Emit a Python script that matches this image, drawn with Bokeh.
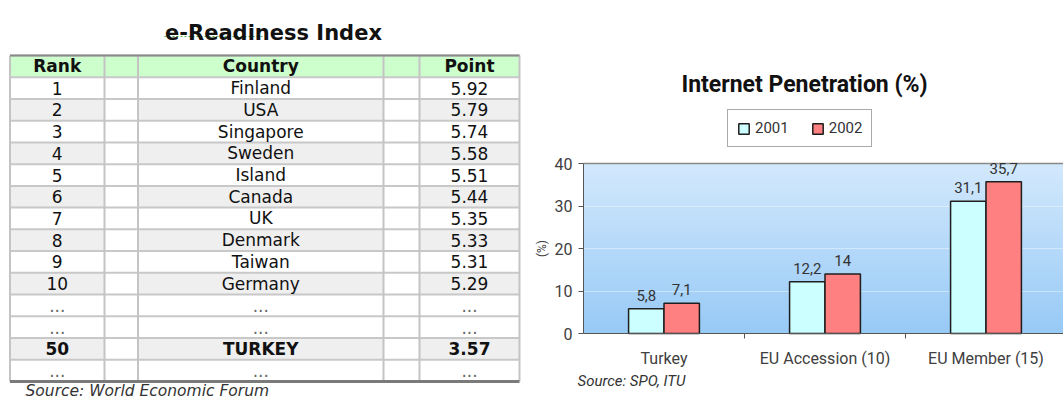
import numpy as np
from bokeh.plotting import figure
from bokeh.models import (Range1d, ColumnDataSource, Label, Legend, LegendItem, FixedTicker,
                          LinearAxis, Grid)
from bokeh.layouts import row
from bokeh.embed import file_html
from bokeh.resources import INLINE
from bokeh.core.properties import value, field

# ---------------- data: e-Readiness table ----------------
table_title = "e-Readiness Index"
header = ["Rank", "Country", "Point"]
ranks = ["1", "2", "3", "4", "5", "6", "7", "8", "9", "10", "...", "...", "50", "..."]
countries = ["Finland", "USA", "Singapore", "Sweden", "Island", "Canada", "UK",
             "Denmark", "Taiwan", "Germany", "...", "...", "TURKEY", "..."]
points = ["5.92", "5.79", "5.74", "5.58", "5.51", "5.44", "5.35", "5.33", "5.31",
          "5.29", "...", "...", "3.57", "..."]
shaded = [False, True, False, True, False, True, False, True, False, True,
          False, False, True, False]
highlight = "TURKEY"
table_note = "Source: World Economic Forum"

# ---------------- data: Internet penetration chart ----------------
chart_title = "Internet Penetration (%)"
categories = ["Turkey", "EU Accession (10)", "EU Member (15)"]
years = ["2001", "2002"]
pen_2001 = [5.8, 12.2, 31.1]
pen_2002 = [7.1, 14.0, 35.7]
y_ticks = [0, 10, 20, 30, 40]
chart_note = "Source: SPO, ITU"

H = 398
W_L = 530
W_R = 1063 - W_L

# ================= table figure =================
row_h = 21.73
top_px = 55
y_top = -0.5 - top_px / row_h
y_bot = y_top + H / row_h
pt = figure(width=W_L, height=H, x_range=Range1d(0, W_L), y_range=Range1d(y_bot, y_top),
            min_border=0, toolbar_location=None, output_backend="svg",
            x_axis_location=None, y_axis_location=None, outline_line_color=None)
pt.xgrid.visible = False
pt.ygrid.visible = False
pt.background_fill_color = "white"
pt.border_fill_color = "white"

col_edges = [9.5, 104, 137.5, 383, 419, 519]
content_cols = [(col_edges[0], col_edges[1]), (col_edges[2], col_edges[3]), (col_edges[4], col_edges[5])]
n_body = len(ranks)
rows_idx = np.arange(1, n_body + 1)

pt.quad(left=[col_edges[0]], right=[col_edges[-1]], top=[-0.5], bottom=[0.5],
        fill_color="#ccffcc", line_color=None)
sh = rows_idx[np.array(shaded)]
for (l, r) in content_cols:
    pt.quad(left=l, right=r, top=sh - 0.5, bottom=sh + 0.5, fill_color="#efefef", line_color=None)

hy = np.arange(-0.5, n_body + 0.5, 1.0)
pt.segment(x0=col_edges[0], x1=col_edges[-1], y0=hy, y1=hy, line_color="#c8c8c8", line_width=2)
pt.segment(x0=col_edges, x1=col_edges, y0=-0.5, y1=n_body + 0.5, line_color="#c4c4c4", line_width=2)
pt.segment(x0=[col_edges[0]], x1=[col_edges[-1]], y0=[-0.5], y1=[-0.5], line_color="#8a8a8a", line_width=2)
pt.segment(x0=[col_edges[0]], x1=[col_edges[-1]], y0=[n_body + 0.5], y1=[n_body + 0.5],
           line_color="#7a7a7a", line_width=3)

centers = [(l + r) / 2 for (l, r) in content_cols]
pt.text(x=centers, y=[0, 0, 0], text=header, text_align="center", text_baseline="middle",
        text_font=value("DejaVu Sans"), text_font_size="17px", text_font_style="bold",
        text_color="#111111")
src = ColumnDataSource(dict(y=rows_idx, rank=ranks, country=countries, point=points,
                            style=["bold" if c == highlight else "normal" for c in countries],
                            color=["#666666" if c == "..." else "#111111" for c in countries]))
for fld, cx in zip(["rank", "country", "point"], centers):
    pt.text(x=cx, y="y", text=fld, source=src, text_align="center", text_baseline="middle",
            text_font=value("DejaVu Sans"), text_font_size="17px", text_font_style=field("style"),
            text_color=field("color"))

# spell-check squiggle under the first word of the title
sq_y = y_top + 36 / row_h
pt.segment(x0=[164], x1=[262], y0=[sq_y], y1=[sq_y], line_color="#4fb84f", line_width=1.2, line_dash="2 2")

pt.add_layout(Label(x=273, y=H - 32, x_units="screen", y_units="screen", text=table_title,
                    text_align="center", text_baseline="alphabetic", text_font="DejaVu Sans",
                    text_font_size="21px", text_font_style="bold", text_color="#111111"))
pt.add_layout(Label(x=25, y=8, x_units="screen", y_units="screen", text=table_note,
                    text_align="left", text_baseline="middle", text_font="DejaVu Sans",
                    text_font_size="15.5px", text_font_style="italic", text_color="#333333"))

# ================= bar chart figure =================
FL, FT, FB = 53, 163, 65          # plot-area offsets inside the right figure (px)
cat_px = 161                      # width of one category (px)
n_cat = len(categories)
ppu = (H - FT - FB) / (y_ticks[-1] - y_ticks[0])
FONT = "Roboto"

pc = figure(width=W_R, height=H,
            x_range=Range1d(-FL / cat_px, (W_R - FL) / cat_px),
            y_range=Range1d(y_ticks[0] - FB / ppu, y_ticks[-1] + FT / ppu),
            min_border=0, toolbar_location=None, output_backend="svg",
            x_axis_location=None, y_axis_location=None, outline_line_color=None)
pc.xgrid.visible = False
pc.ygrid.visible = False
pc.border_fill_color = "white"
pc.background_fill_color = "white"

# vertical gradient backdrop of the plot area
top_rgb = np.array([0xd3, 0xe9, 0xfd], dtype=float)
bot_rgb = np.array([0x98, 0xca, 0xf6], dtype=float)
ng = 170
t = np.linspace(0, 1, ng)[:, None]
rgb = bot_rgb * (1 - t) + top_rgb * t
img = np.empty((ng, 1), dtype=np.uint32)
view = img.view(dtype=np.uint8).reshape((ng, 1, 4))
view[:, 0, 0:3] = rgb.astype(np.uint8)
view[:, 0, 3] = 255
pc.image_rgba(image=[img], x=0, y=y_ticks[0], dw=n_cat, dh=y_ticks[-1] - y_ticks[0], level="image")

grid = Grid(dimension=1, ticker=FixedTicker(ticks=y_ticks[1:-1]),
            grid_line_color="white", grid_line_alpha=0.4)
pc.add_layout(grid)
# plot-area top border
pc.segment(x0=[0], x1=[n_cat], y0=[y_ticks[-1]], y1=[y_ticks[-1]], line_color="#8a8a8a", line_width=1.5)

xc = np.arange(n_cat) + 0.5
off, bw = 0.11, 0.22
r1 = pc.vbar(x=xc - off, top=pen_2001, width=bw, fill_color="#ccffff", line_color="#1e1e1e", line_width=1.5)
r2 = pc.vbar(x=xc + off, top=pen_2002, width=bw, fill_color="#ff8080", line_color="#1e1e1e", line_width=1.5)

def fmt(v):
    return f"{v:g}".replace(".", ",")

for xs, vals in ((xc - off, pen_2001), (xc + off, pen_2002)):
    pc.text(x=xs, y=vals, text=[fmt(v) for v in vals], text_align="center", text_baseline="bottom",
            y_offset=-8, text_font=value(FONT), text_font_size="15px", text_color="#333333")

# axes fixed at the plot-area origin
yax = LinearAxis(fixed_location=0, ticker=FixedTicker(ticks=y_ticks), bounds=(y_ticks[0], y_ticks[-1]),
                 axis_line_color="#555555", major_tick_line_color="#555555",
                 major_tick_out=5, major_tick_in=0, minor_tick_line_color=None,
                 major_label_text_font=FONT, major_label_text_font_size="16px",
                 major_label_text_color="#404040", major_label_standoff=6,
                 axis_label="(%)", axis_label_text_font=FONT, axis_label_text_font_size="12px",
                 axis_label_text_font_style="normal", axis_label_text_color="#404040",
                 axis_label_standoff=3)
pc.add_layout(yax, "left")

xax = LinearAxis(fixed_location=0, ticker=FixedTicker(ticks=list(xc), minor_ticks=list(range(1, n_cat))),
                 bounds=(0, n_cat),
                 major_label_overrides={float(x): c for x, c in zip(xc, categories)},
                 axis_line_color="#555555", major_tick_line_color=None, major_tick_out=0, major_tick_in=0,
                 minor_tick_line_color="#555555", minor_tick_out=5, minor_tick_in=0,
                 major_label_text_font=FONT, major_label_text_font_size="16px",
                 major_label_text_color="#404040", major_label_standoff=10)
pc.add_layout(xax, "below")

legend = Legend(items=[LegendItem(label=years[0], renderers=[r1]),
                       LegendItem(label=years[1], renderers=[r2])],
                location=(197, 251), orientation="horizontal",
                border_line_color="#555555", border_line_width=1.5,
                background_fill_color="white", background_fill_alpha=1.0,
                glyph_width=13, glyph_height=13, label_standoff=5, spacing=22,
                padding=9, margin=0, label_height=14,
                label_text_font=FONT, label_text_font_size="15px", label_text_color="#333333")
pc.add_layout(legend)

pc.add_layout(Label(x=274, y=H - 84, x_units="screen", y_units="screen", text=chart_title,
                    text_align="center", text_baseline="middle", text_font=FONT,
                    text_font_size="23px", text_font_style="bold", text_color="#111111"))
pc.add_layout(Label(x=47, y=H - 380, x_units="screen", y_units="screen", text=chart_note,
                    text_align="left", text_baseline="middle", text_font=FONT,
                    text_font_size="15px", text_font_style="italic", text_color="#333333"))

layout = row(pt, pc, spacing=0)
open("out.html", "w").write(file_html(layout, INLINE))
